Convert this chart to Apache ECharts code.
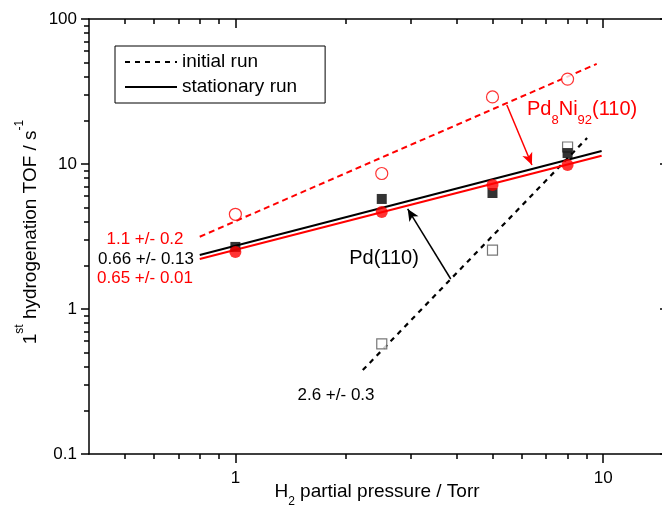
<!DOCTYPE html>
<html><head><meta charset="utf-8">
<script src="https://cdn.jsdelivr.net/npm/echarts@6/dist/echarts.min.js"></script>
<style>html,body{margin:0;padding:0;background:#fff}#c{width:662px;height:520px}</style>
</head><body><div id="c"></div>
<script>
const FONT = '"Liberation Sans", Arial, sans-serif';

// measured points (H2 pressure in Torr, TOF in s^-1)
const pressures = [1, 2.5, 5, 8];
const pdniInitial = [4.5, 8.6, 29, 38.5];
const pdniStationary = [2.47, 4.67, 7.16, 9.84];
const pdStationary = [2.68, 5.74, 6.31, 11.9];
const pdInitialPressures = [2.5, 5, 8];
const pdInitial = [0.574, 2.55, 13.1];

// power-law fit lines (end points)
const fitPdniInitialX = [0.8, 9.6],  fitPdniInitialY = [3.15, 49];
const fitPdStatX = [0.8, 9.9],       fitPdStatY = [2.36, 12.3];
const fitPdniStatX = [0.8, 9.9],     fitPdniStatY = [2.21, 11.4];
const fitPdInitialX = [2.22, 9.04],  fitPdInitialY = [0.379, 15.1];

// annotation arrows (start -> end, data coordinates)
const redArrowX = [5.47, 6.40],   redArrowY = [25.5, 9.85];
const blackArrowX = [3.85, 2.94], blackArrowY = [1.61, 4.90];

// axes
const xRange = [0.4, 15];
const yRange = [0.1, 100];
const xMajor = [1, 10];
const xMinor = [0.5, 0.6, 0.7, 0.8, 0.9, 2, 3, 4, 5, 6, 7, 8, 9];
const yMajor = [0.1, 1, 10, 100];
const yMinor = [0.2,0.3,0.4,0.5,0.6,0.7,0.8,0.9,2,3,4,5,6,7,8,9,20,30,40,50,60,70,80,90];

const zip = (a, b) => a.map((v, i) => [v, b[i]]);

function mkAxis(dim, pos, range, ticks, len, inside, showLine, labels) {
  return {
    type: 'log', logBase: 10, position: pos, min: range[0], max: range[1],
    gridIndex: 0,
    axisLine: { show: showLine, onZero: false, lineStyle: { color: '#000', width: 1.5 } },
    axisTick: { show: true, inside: inside, length: len, customValues: ticks, lineStyle: { color: '#000', width: 1.5 } },
    minorTick: { show: false },
    splitLine: { show: false },
    axisLabel: labels ? {
      show: true, customValues: labels, color: '#000', fontSize: 17, fontFamily: FONT,
      margin: dim === 'x' ? 16 : 12,
      formatter: v => String(+(+v).toPrecision(6))
    } : { show: false }
  };
}

const chart = echarts.init(document.getElementById('c'), null, { renderer: 'canvas' });
chart.setOption({
  animation: false,
  backgroundColor: '#fff',
  grid: { left: 89, width: 579, top: 19, height: 435, containLabel: false, outerBoundsMode: 'none' },
  xAxis: [
    mkAxis('x', 'bottom', xRange, xMajor, 9, false, true, xMajor),
    mkAxis('x', 'bottom', xRange, xMinor, 5, false, false, null),
    mkAxis('x', 'top', xRange, xMajor, 9, true, true, null),
    mkAxis('x', 'top', xRange, xMinor, 5, true, false, null)
  ],
  yAxis: [
    mkAxis('y', 'left', yRange, yMajor, 8, false, true, yMajor),
    mkAxis('y', 'left', yRange, yMinor, 5, false, false, null),
    mkAxis('y', 'right', yRange, yMajor, 8, true, true, null),
    mkAxis('y', 'right', yRange, yMinor, 5, true, false, null)
  ],
  legend: {
    data: ['initial run', 'stationary run'],
    orient: 'vertical', left: 115, top: 46,
    padding: [6, 28, 6, 9], itemGap: 5, itemWidth: 52, itemHeight: 20,
    borderColor: '#000', borderWidth: 1, borderRadius: 0,
    itemStyle: { opacity: 0 },
    textStyle: { color: '#000', fontSize: 19, fontFamily: FONT, lineHeight: 20 },
    selectedMode: false
  },
  series: [
    { name: 'initial run', type: 'line', data: zip(fitPdInitialX, fitPdInitialY), symbol: 'none',
      lineStyle: { color: '#000', width: 2.2, type: [5, 5] }, itemStyle: { color: '#000' }, z: 2,
      markLine: { silent: true, symbol: ['none', 'arrow'], symbolSize: [8, 12], label: { show: false },
        lineStyle: { color: '#000', width: 1.5, type: 'solid' },
        data: [[{ coord: [blackArrowX[0], blackArrowY[0]] }, { coord: [blackArrowX[1], blackArrowY[1]] }]] } },
    { name: 'initial run', type: 'line', data: zip(fitPdniInitialX, fitPdniInitialY), symbol: 'none',
      lineStyle: { color: '#ff0000', width: 2, type: [6, 4] }, itemStyle: { color: '#ff0000' }, z: 2,
      markLine: { silent: true, symbol: ['none', 'arrow'], symbolSize: [8, 12], label: { show: false },
        lineStyle: { color: '#ff0000', width: 1.5, type: 'solid' },
        data: [[{ coord: [redArrowX[0], redArrowY[0]] }, { coord: [redArrowX[1], redArrowY[1]] }]] } },
    { name: 'stationary run', type: 'line', data: zip(fitPdStatX, fitPdStatY), symbol: 'none',
      lineStyle: { color: '#000', width: 2, type: 'solid' }, itemStyle: { color: '#000' }, z: 2 },
    { name: 'stationary run', type: 'line', data: zip(fitPdniStatX, fitPdniStatY), symbol: 'none',
      lineStyle: { color: '#ff0000', width: 2, type: 'solid' }, itemStyle: { color: '#ff0000' }, z: 2 },
    { name: 'Pd(110) initial', type: 'scatter', data: zip(pdInitialPressures, pdInitial), symbol: 'rect', symbolSize: 10,
      itemStyle: { color: '#fff', borderColor: '#555', borderWidth: 1.2 }, z: 3 },
    { name: 'Pd(110) stationary', type: 'scatter', data: zip(pressures, pdStationary), symbol: 'rect', symbolSize: 10,
      itemStyle: { color: '#000' }, z: 3 },
    { name: 'Pd8Ni92(110) initial', type: 'scatter', data: zip(pressures, pdniInitial), symbol: 'circle', symbolSize: 12,
      itemStyle: { color: '#fff', borderColor: '#ff0000', borderWidth: 1.2 }, z: 3 },
    { name: 'Pd8Ni92(110) stationary', type: 'scatter', data: zip(pressures, pdniStationary), symbol: 'circle', symbolSize: 12,
      itemStyle: { color: '#ff0000' }, z: 3 }
  ],
  graphic: [
    { type: 'text', x: 27, y: 232, rotation: Math.PI / 2,
      style: { text: '{m|1}{p|st}{m| hydrogenation TOF / s}{p|-1}', align: 'center', verticalAlign: 'middle', fill: '#000',
        rich: { m: { fontSize: 19, fontFamily: FONT, lineHeight: 26, verticalAlign: 'bottom', fill: '#000' },
                p: { fontSize: 12, fontFamily: FONT, lineHeight: 12, verticalAlign: 'top', fill: '#000' } } } },
    { type: 'text', x: 377, y: 494,
      style: { text: '{m|H}{s|2}{m| partial pressure / Torr}', align: 'center', verticalAlign: 'middle', fill: '#000',
        rich: { m: { fontSize: 19, fontFamily: FONT, lineHeight: 24, verticalAlign: 'top', fill: '#000' },
                s: { fontSize: 12, fontFamily: FONT, lineHeight: 12, padding: [14, 0, 0, 0], verticalAlign: 'top', fill: '#000' } } } },
    { type: 'text', x: 527, y: 99,
      style: { text: '{m|Pd}{s|8}{m|Ni}{s|92}{m|(110)}', align: 'left', verticalAlign: 'top', fill: '#ff0000',
        rich: { m: { fontSize: 20, fontFamily: FONT, lineHeight: 24, verticalAlign: 'top', fill: '#ff0000' },
                s: { fontSize: 13, fontFamily: FONT, lineHeight: 13, padding: [15, 0, 0, 0], verticalAlign: 'top', fill: '#ff0000' } } } },
    { type: 'text', x: 384, y: 258, style: { text: 'Pd(110)', fontSize: 20, fontFamily: FONT, fill: '#000', align: 'center', verticalAlign: 'middle' } },
    { type: 'text', x: 336, y: 395, style: { text: '2.6 +/- 0.3', fontSize: 17, fontFamily: FONT, fill: '#000', align: 'center', verticalAlign: 'middle' } },
    { type: 'text', x: 145, y: 239, style: { text: '1.1 +/- 0.2', fontSize: 17, fontFamily: FONT, fill: '#ff0000', align: 'center', verticalAlign: 'middle' } },
    { type: 'text', x: 146, y: 259, style: { text: '0.66 +/- 0.13', fontSize: 17, fontFamily: FONT, fill: '#000', align: 'center', verticalAlign: 'middle' } },
    { type: 'text', x: 145, y: 278, style: { text: '0.65 +/- 0.01', fontSize: 17, fontFamily: FONT, fill: '#ff0000', align: 'center', verticalAlign: 'middle' } }
  ]
});
</script>
</body></html>
